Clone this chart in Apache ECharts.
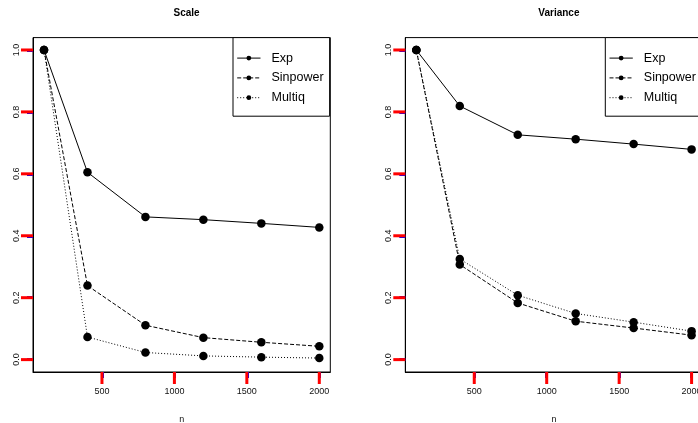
<!DOCTYPE html>
<html>
<head>
<meta charset="utf-8">
<script src="https://cdn.jsdelivr.net/npm/echarts@6/dist/echarts.min.js"></script>
<style>
  html, body { margin: 0; padding: 0; background: #fff; }
  #chart { width: 698px; height: 423px; }
</style>
</head>
<body>
<div id="chart"></div>
<script>
// sample sizes on the x axis
const nValues = [100, 400, 800, 1200, 1600, 2000];
const seriesNames = ['Exp', 'Sinpower', 'Multiq'];
const panelTitles = ['Scale', 'Variance'];

// values
const scaleExp = [1.0, 0.605, 0.461, 0.452, 0.440, 0.427];
const scaleSinpower = [1.0, 0.239, 0.111, 0.071, 0.056, 0.043];
const scaleMultiq = [1.0, 0.073, 0.023, 0.012, 0.008, 0.005];
const varExp = [1.0, 0.819, 0.726, 0.712, 0.696, 0.679];
const varSinpower = [1.0, 0.307, 0.183, 0.124, 0.102, 0.079];
const varMultiq = [1.0, 0.325, 0.208, 0.149, 0.121, 0.092];

const xTicks = [500, 1000, 1500, 2000];
const yTicks = [0, 0.2, 0.4, 0.6, 0.8, 1.0];

const font = 'Liberation Sans, Arial, Helvetica, sans-serif';
const lineTypes = ['solid', [4, 2], [1, 2]];

const xMin = 24, xMax = 2076, yMin = -0.04, yMax = 1.04;

const panels = [
  [scaleExp, scaleSinpower, scaleMultiq],
  [varExp, varSinpower, varMultiq]
];

const myChart = echarts.init(document.getElementById('chart'), null, { renderer: 'canvas' });

const gridLeft = [33, 405.3];
const grids = [], xAxes = [], yAxes = [], titles = [], legends = [], series = [];

// tick marks drawn through the axis scales (outside the box, like R)
function tickSeries(p, values, horizontal) {
  return {
    type: 'custom',
    coordinateSystem: 'cartesian2d',
    xAxisIndex: p,
    yAxisIndex: p,
    silent: true,
    clip: false,
    animation: false,
    z: 10,
    data: values.map(v => horizontal ? [v, yMin] : [xMin, v]),
    renderItem: (params, api) => {
      const pt = api.coord([api.value(0), api.value(1)]);
      const shape = horizontal
        ? { x1: pt[0], y1: pt[1], x2: pt[0], y2: pt[1] + 12 }
        : { x1: pt[0] - 12, y1: pt[1], x2: pt[0], y2: pt[1] };
      return { type: 'line', shape: shape, style: { stroke: '#ff0000', lineWidth: 3 } };
    }
  };
}

panels.forEach((panel, p) => {
  grids.push({
    left: gridLeft[p],
    top: 37.6,
    width: 297.3,
    height: 334.4,
    outerBoundsMode: 'none',
    containLabel: false,
    show: true,
    borderColor: '#000',
    borderWidth: 1,
    backgroundColor: 'transparent'
  });
  xAxes.push({
    gridIndex: p,
    type: 'value',
    min: xMin,
    max: xMax,
    name: 'n',
    nameLocation: 'middle',
    nameGap: 43.5,
    nameTextStyle: { fontFamily: font, fontSize: 9, color: '#111' },
    axisLine: { show: true, onZero: false, lineStyle: { color: '#000', width: 1 } },
    splitLine: { show: false },
    axisTick: { show: true, length: 6, customValues: xTicks, lineStyle: { color: '#0000ff', width: 3 } },
    axisLabel: {
      customValues: xTicks,
      margin: 15.5,
      fontFamily: font,
      fontSize: 9,
      color: '#111',
      formatter: v => String(v)
    }
  });
  yAxes.push({
    gridIndex: p,
    type: 'value',
    min: yMin,
    max: yMax,
    axisLine: { show: true, onZero: false, lineStyle: { color: '#000', width: 1 } },
    splitLine: { show: false },
    axisTick: { show: true, length: 6, customValues: yTicks, lineStyle: { color: '#0000ff', width: 3 } },
    axisLabel: {
      customValues: yTicks,
      rotate: 90,
      margin: 12,
      fontFamily: font,
      fontSize: 9,
      color: '#111',
      formatter: v => v.toFixed(1)
    }
  });
  titles.push({
    text: panelTitles[p],
    left: gridLeft[p] + 148.6,
    top: 3,
    textAlign: 'center',
    textStyle: { fontFamily: font, fontSize: 10, fontWeight: 'bold', color: '#000' }
  });
  legends.push({
    data: seriesNames,
    orient: 'vertical',
    left: gridLeft[p] + 200,
    top: 37.6,
    padding: [14, 6, 12, 3.7],
    itemWidth: 23.3,
    itemHeight: 6,
    itemGap: 6.8,
    backgroundColor: '#fff',
    borderColor: '#000',
    borderWidth: 1,
    borderRadius: 0,
    selectedMode: false,
    lineStyle: { width: 1 },
    textStyle: { fontFamily: font, fontSize: 12.5, color: '#000', padding: [0, 0, 0, 6] }
  });
  panel.forEach((vals, s) => {
    series.push({
      name: seriesNames[s],
      type: 'line',
      xAxisIndex: p,
      yAxisIndex: p,
      data: nValues.map((n, i) => [n, vals[i]]),
      symbol: 'circle',
      symbolSize: 8.5,
      showSymbol: true,
      animation: false,
      itemStyle: { color: '#000' },
      lineStyle: { color: '#000', width: 1, type: lineTypes[s] },
      z: 3
    });
  });
  series.push(tickSeries(p, xTicks, true));
  series.push(tickSeries(p, yTicks, false));
});

const option = {
  backgroundColor: '#fff',
  animation: false,
  title: titles,
  legend: legends,
  grid: grids,
  xAxis: xAxes,
  yAxis: yAxes,
  series: series
};

myChart.setOption(option);
</script>
</body>
</html>
